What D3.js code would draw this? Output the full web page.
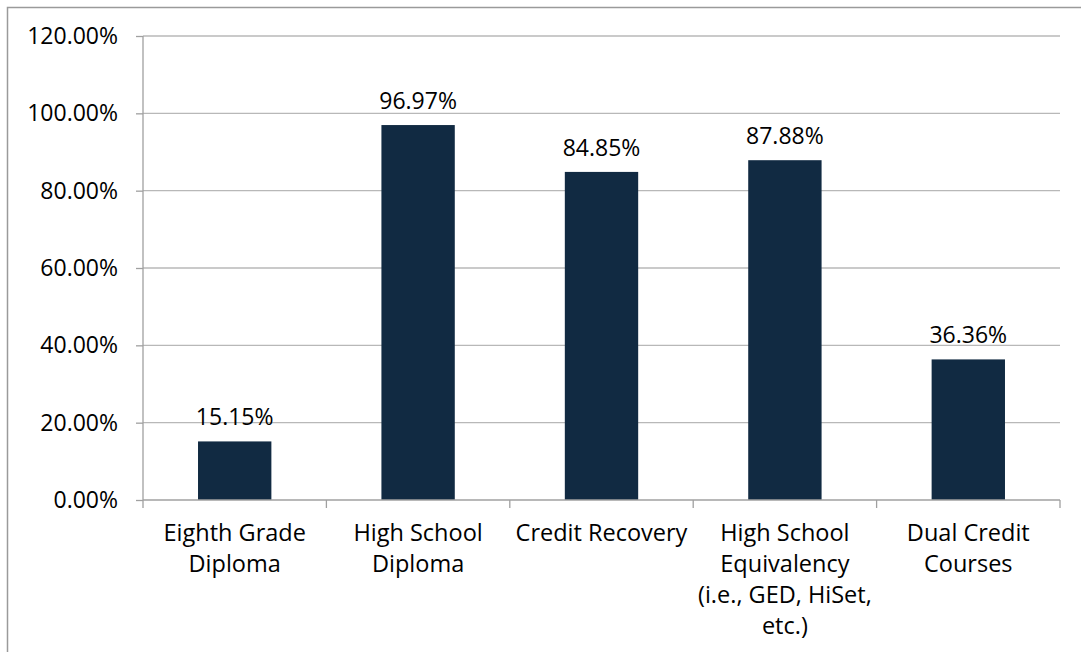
<!DOCTYPE html>
<html>
<head>
<meta charset="utf-8">
<script src="https://cdn.jsdelivr.net/npm/d3@7"></script>
<style>
  html, body { margin: 0; padding: 0; background: #fff; }
  svg { display: block; }
  text { font-family: "Open Sans", "Liberation Sans", sans-serif; fill: #000; }
</style>
</head>
<body>
<svg id="chart" width="1081" height="652"></svg>
<script>
// Share of programs offering each credential / pathway
const categories = [
  ["Eighth Grade", "Diploma"],
  ["High School", "Diploma"],
  ["Credit Recovery"],
  ["High School", "Equivalency", "(i.e., GED, HiSet,", "etc.)"],
  ["Dual Credit", "Courses"]
];
const values = [15.15, 96.97, 84.85, 87.88, 36.36];
const yTicks = [0, 20, 40, 60, 80, 100, 120];

const svg = d3.select("#chart");
const W = 1081, H = 652;
const margin = { left: 143, right: 21, top: 36, bottom: 152 };
const innerW = W - margin.left - margin.right;
const innerH = H - margin.top - margin.bottom;
const fontSize = 23;

// outer frame
svg.append("rect")
  .attr("x", 7.5).attr("y", 7.5)
  .attr("width", W + 10).attr("height", H + 10)
  .attr("fill", "none").attr("stroke", "#9a9a9a").attr("stroke-width", 1.5);

const g = svg.append("g").attr("transform", `translate(${margin.left},${margin.top})`);

const x = d3.scaleBand().domain(d3.range(categories.length)).range([0, innerW]).paddingInner(0.6).paddingOuter(0.3);
const xOuter = d3.scaleBand().domain(d3.range(categories.length)).range([0, innerW]);
const y = d3.scaleLinear().domain([0, 120]).range([innerH, 0]);

// gridlines
g.append("g").selectAll("line").data(yTicks.filter(d => d > 0)).join("line")
  .attr("x1", 0).attr("x2", innerW)
  .attr("y1", d => y(d)).attr("y2", d => y(d))
  .attr("stroke", "#b8b8b8").attr("stroke-width", 1.3);

// y axis
const yAxis = g.append("g").call(
  d3.axisLeft(y).tickValues(yTicks).tickFormat(d => d.toFixed(2) + "%").tickSize(7).tickPadding(18)
);
yAxis.select(".domain").attr("stroke", "#a0a0a0").attr("stroke-width", 1.3).attr("d", `M0,${innerH}V0`);
yAxis.selectAll(".tick line").attr("stroke", "#a0a0a0").attr("stroke-width", 1.3);
yAxis.selectAll(".tick text").attr("font-size", fontSize).attr("fill", "#000")
  .style("font-family", '"Open Sans", "Liberation Sans", sans-serif');

// bars
g.append("g").selectAll("rect").data(values).join("rect")
  .attr("x", (d, i) => x(i))
  .attr("width", x.bandwidth())
  .attr("y", d => y(d))
  .attr("height", d => innerH - y(d))
  .attr("fill", "#112a42");

// x axis baseline and category ticks
g.append("line").attr("x1", 0).attr("x2", innerW).attr("y1", innerH).attr("y2", innerH)
  .attr("stroke", "#a0a0a0").attr("stroke-width", 1.3);
const bounds = d3.range(categories.length + 1).map(i => i < categories.length ? xOuter(i) : innerW);
g.append("g").selectAll("line").data(bounds).join("line")
  .attr("x1", d => d).attr("x2", d => d)
  .attr("y1", innerH).attr("y2", innerH + 8)
  .attr("stroke", "#a0a0a0").attr("stroke-width", 1.3);

// value labels
g.append("g").selectAll("text").data(values).join("text")
  .attr("x", (d, i) => x(i) + x.bandwidth() / 2)
  .attr("y", d => y(d) - 16)
  .attr("text-anchor", "middle")
  .attr("font-size", fontSize)
  .text(d => d.toFixed(2) + "%");

// category labels
const cat = g.append("g").selectAll("text").data(categories).join("text")
  .attr("x", (d, i) => x(i) + x.bandwidth() / 2)
  .attr("y", innerH + 41)
  .attr("text-anchor", "middle")
  .attr("font-size", fontSize + 0.5);
cat.selectAll("tspan").data(d => d).join("tspan")
  .attr("x", function () { return d3.select(this.parentNode).attr("x"); })
  .attr("dy", (d, i) => i === 0 ? 0 : 31)
  .text(d => d);
</script>
</body>
</html>
